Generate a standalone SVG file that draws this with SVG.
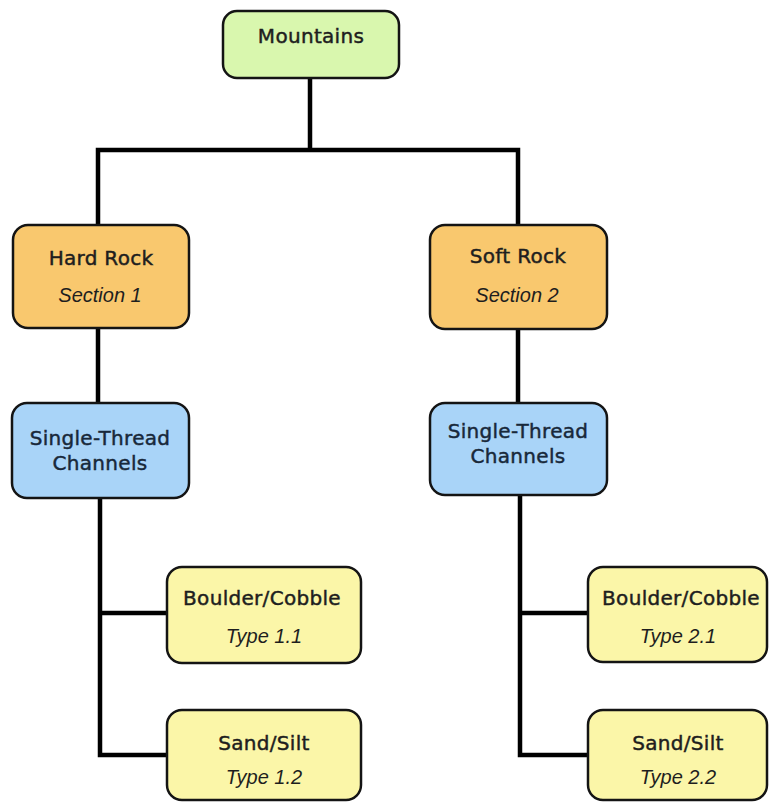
<svg xmlns="http://www.w3.org/2000/svg" width="769" height="803" viewBox="0 0 769 803">
<style>
.box{stroke:#141414;stroke-width:2.5}
.green{fill:#d9f7ae}
.orange{fill:#f9c86e}
.blue{fill:#a9d4f8}
.yellow{fill:#fbf6a8}
.t{font-family:"DejaVu Sans","Liberation Sans",sans-serif;font-size:20px;fill:#1e1e1e;stroke:#1e1e1e;stroke-width:0.45;text-anchor:middle;letter-spacing:0.3px}
.b{fill:#18283a;stroke:#18283a}
.i{font-family:"Liberation Sans","DejaVu Sans",sans-serif;font-size:20px;font-style:italic;fill:#1e1e1e;text-anchor:middle}
.c{fill:none;stroke:#000;stroke-width:4.5;stroke-linejoin:miter}
</style>
<rect width="769" height="803" fill="#fff"/>
<g id="connectors">
<path class="c" d="M310,78 V150"/>
<path class="c" d="M98,225 V150 H518 V225"/>
<path class="c" d="M98,328 V403"/>
<path class="c" d="M518,329 V403"/>
<path class="c" d="M100,498 V755 H167"/>
<path class="c" d="M100,613 H167"/>
<path class="c" d="M520,495 V755 H588"/>
<path class="c" d="M520,613 H588"/>
</g>
<g id="mountains">
<rect class="box green" x="223" y="11" width="176" height="67" rx="14"/>
<text class="t" x="311" y="43" letter-spacing="1">Mountains</text>
</g>
<g id="hard-rock">
<rect class="box orange" x="13" y="225" width="176" height="103" rx="15"/>
<text class="t" x="101" y="265">Hard Rock</text>
<text class="i" x="100" y="302">Section 1</text>
</g>
<g id="soft-rock">
<rect class="box orange" x="430" y="225" width="177" height="104" rx="15"/>
<text class="t" x="518" y="263">Soft Rock</text>
<text class="i" x="517" y="302">Section 2</text>
</g>
<g id="single-thread-1">
<rect class="box blue" x="12" y="403" width="177" height="95" rx="15"/>
<text class="t b" x="100" y="445">Single-Thread</text>
<text class="t b" x="100" y="470">Channels</text>
</g>
<g id="single-thread-2">
<rect class="box blue" x="430" y="403" width="177" height="92" rx="15"/>
<text class="t b" x="518" y="438">Single-Thread</text>
<text class="t b" x="518" y="463">Channels</text>
</g>
<g id="boulder-1">
<rect class="box yellow" x="167" y="567" width="194" height="96" rx="15"/>
<text class="t" x="262" y="605">Boulder/Cobble</text>
<text class="i" x="264" y="643">Type 1.1</text>
</g>
<g id="sand-1">
<rect class="box yellow" x="167" y="710" width="194" height="90" rx="15"/>
<text class="t" x="264" y="750">Sand/Silt</text>
<text class="i" x="264" y="784">Type 1.2</text>
</g>
<g id="boulder-2">
<rect class="box yellow" x="588" y="567" width="179" height="95" rx="15"/>
<text class="t" x="681" y="605">Boulder/Cobble</text>
<text class="i" x="678" y="643">Type 2.1</text>
</g>
<g id="sand-2">
<rect class="box yellow" x="588" y="710" width="179" height="90" rx="15"/>
<text class="t" x="678" y="750">Sand/Silt</text>
<text class="i" x="678" y="784">Type 2.2</text>
</g>
</svg>
